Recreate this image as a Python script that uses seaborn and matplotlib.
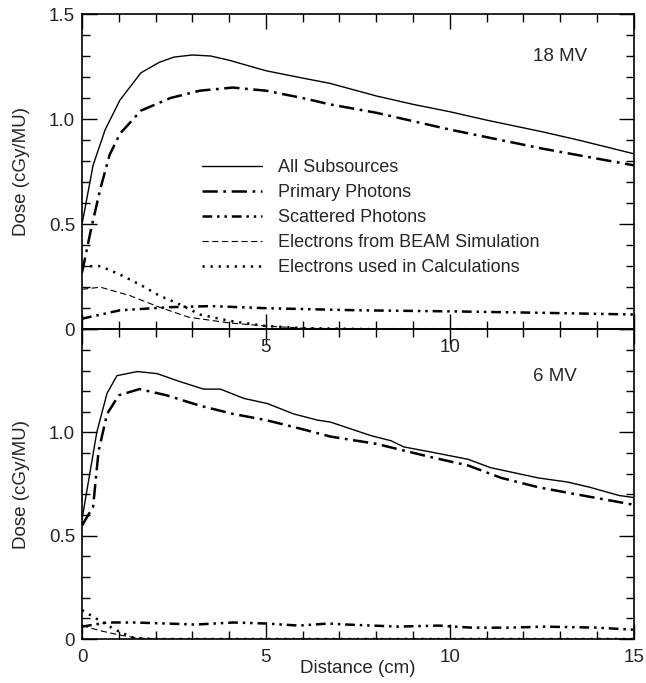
import numpy as np
import pandas as pd
import matplotlib
matplotlib.use("Agg")
import matplotlib.pyplot as plt
import seaborn as sns
from matplotlib.ticker import MultipleLocator, FixedLocator, FixedFormatter

# ---------------- data ----------------
labels = ["All Subsources", "Primary Photons", "Scattered Photons",
          "Electrons from BEAM Simulation", "Electrons used in Calculations"]

# 18 MV
x18_all = [0, 0.3, 0.63, 1.03, 1.6, 2.1, 2.5, 3.0, 3.5, 4.0, 5.0, 6.0, 6.74, 8.0, 9.0, 10.0, 11.0, 12.5, 13.5, 15.0]
y18_all = [0.50, 0.78, 0.95, 1.09, 1.22, 1.27, 1.295, 1.305, 1.30, 1.28, 1.23, 1.195, 1.17, 1.11, 1.07, 1.035, 0.995, 0.94, 0.90, 0.835]
x18_pri = [0, 0.25, 0.5, 0.75, 1.03, 1.6, 2.4, 3.2, 4.1, 5.0, 6.0, 6.74, 8.0, 10.0, 12.5, 15.0]
y18_pri = [0.27, 0.48, 0.67, 0.83, 0.93, 1.04, 1.10, 1.135, 1.15, 1.135, 1.10, 1.07, 1.03, 0.95, 0.86, 0.78]
x18_sca = [0, 1.03, 2.4, 3.5, 5.0, 7.5, 10.0, 12.5, 15.0]
y18_sca = [0.05, 0.09, 0.105, 0.11, 0.10, 0.09, 0.085, 0.078, 0.07]
x18_ebm = [0, 0.5, 1.3, 2.1, 2.9, 4.0, 5.0, 6.0, 8.0, 15.0]
y18_ebm = [0.19, 0.20, 0.16, 0.105, 0.057, 0.03, 0.015, 0.005, 0.0, 0.0]
x18_ecl = [0, 0.5, 1.03, 1.6, 2.1, 2.7, 3.2, 4.0, 5.0, 6.0, 8.0, 15.0]
y18_ecl = [0.30, 0.30, 0.26, 0.21, 0.16, 0.115, 0.07, 0.04, 0.015, 0.005, 0.0, 0.0]

# 6 MV
x6_all = [0, 0.4, 0.68, 0.95, 1.5, 2.04, 2.6, 3.3, 3.76, 4.4, 5.04, 5.75, 6.4, 6.76, 7.85, 8.4, 8.75, 9.5, 10.5, 11.1, 12.4, 13.2, 13.8, 14.6, 15.0]
y6_all = [0.58, 1.00, 1.19, 1.275, 1.295, 1.285, 1.25, 1.21, 1.21, 1.165, 1.14, 1.09, 1.06, 1.05, 0.985, 0.96, 0.93, 0.905, 0.87, 0.83, 0.78, 0.76, 0.735, 0.695, 0.685]
x6_pri = [0, 0.3, 0.45, 0.68, 1.0, 1.56, 2.3, 3.2, 4.1, 5.0, 5.9, 6.76, 8.0, 9.5, 10.5, 11.4, 12.4, 13.3, 15.0]
y6_pri = [0.55, 0.64, 0.91, 1.09, 1.18, 1.21, 1.18, 1.13, 1.09, 1.06, 1.02, 0.98, 0.945, 0.88, 0.84, 0.78, 0.735, 0.705, 0.65]
x6_sca = [0, 0.68, 1.4, 2.3, 3.1, 4.1, 5.0, 5.9, 6.7, 7.2, 8.6, 9.7, 10.6, 11.6, 12.6, 14.0, 15.0]
y6_sca = [0.06, 0.08, 0.08, 0.075, 0.07, 0.08, 0.075, 0.065, 0.075, 0.07, 0.06, 0.065, 0.055, 0.055, 0.06, 0.055, 0.045]
x6_ebm = [0, 0.5, 1.0, 1.5, 2.0, 15.0]
y6_ebm = [0.065, 0.04, 0.02, 0.005, 0.0, 0.0]
x6_ecl = [0, 0.47, 0.9, 1.4, 2.0, 15.0]
y6_ecl = [0.14, 0.09, 0.045, 0.005, 0.0, 0.0]

panels = [
    ("18 MV", [(x18_all, y18_all), (x18_pri, y18_pri), (x18_sca, y18_sca), (x18_ebm, y18_ebm), (x18_ecl, y18_ecl)]),
    ("6 MV", [(x6_all, y6_all), (x6_pri, y6_pri), (x6_sca, y6_sca), (x6_ebm, y6_ebm), (x6_ecl, y6_ecl)]),
]

# ---------------- style ----------------
sns.set_theme(style="white")
plt.rcParams['font.family'] = ['Liberation Sans', 'DejaVu Sans']
plt.rcParams['lines.scale_dashes'] = False

styles = [
    dict(lw=1.0, ls='-'),
    dict(lw=1.8, ls=(0, (11, 4, 2, 4))),
    dict(lw=1.8, ls=(0, (7, 3.5, 1.8, 3.5, 1.8, 3.5))),
    dict(lw=0.8, ls=(0, (4.5, 2.5))),
    dict(lw=1.8, ls=(0, (1.6, 4.2))),
]

fig = plt.figure(figsize=(6.46, 6.83), dpi=100)
ax_top = fig.add_axes([0.127, 0.518, 0.854, 0.4615])
ax_bot = fig.add_axes([0.127, 0.0644, 0.854, 0.4536])

for ax, (title, series) in zip([ax_top, ax_bot], panels):
    for (xs, ys), st, lab in zip(series, styles, labels):
        df = pd.DataFrame({"x": xs, "y": ys})
        sns.lineplot(data=df, x="x", y="y", ax=ax, color="black",
                     linewidth=st['lw'], linestyle=st['ls'],
                     estimator=None, sort=False, label=lab, legend=False)
    ax.set_xlim(0, 15)
    ax.set_ylim(0, 1.5)
    ax.xaxis.set_major_locator(MultipleLocator(5))
    ax.xaxis.set_minor_locator(MultipleLocator(1))
    ax.yaxis.set_major_locator(MultipleLocator(0.5))
    ax.yaxis.set_minor_locator(MultipleLocator(0.1))
    ax.tick_params(which='both', direction='in', top=True, right=True,
                   bottom=True, left=True, color='black', width=1.0,
                   labelsize=13.5)
    ax.tick_params(axis='x', which='both', pad=7)
    ax.tick_params(axis='y', which='both', pad=5)
    ax.tick_params(which='major', length=11)
    ax.tick_params(which='minor', length=5.5)
    for sp in ax.spines.values():
        sp.set_color('black')
        sp.set_linewidth(1.2)
    ax.set_ylabel("Dose (cGy/MU)", fontsize=13.5)
    ax.yaxis.set_label_coords(-0.094, 0.5)
    ax.set_xlabel("")
    ax.text(12.25, 1.30 if title == "18 MV" else 1.27, title, fontsize=13.5,
            va='center', ha='left')

ax_top.yaxis.set_major_locator(FixedLocator([0, 0.5, 1.0, 1.5]))
ax_top.yaxis.set_major_formatter(FixedFormatter(["0", "0.5", "1.0", "1.5"]))
ax_top.xaxis.set_major_locator(FixedLocator([0, 5, 10, 15]))
ax_top.xaxis.set_major_formatter(FixedFormatter(["", "5", "10", ""]))

ax_bot.yaxis.set_major_locator(FixedLocator([0, 0.5, 1.0, 1.5]))
ax_bot.yaxis.set_major_formatter(FixedFormatter(["0", "0.5", "1.0", ""]))
ax_bot.xaxis.set_major_locator(FixedLocator([0, 5, 10, 15]))
ax_bot.xaxis.set_major_formatter(FixedFormatter(["0", "5", "10", "15"]))
ax_bot.set_xlabel("Distance (cm)", fontsize=13.5)
ax_bot.xaxis.set_label_coords(0.5, -0.068)

handles = ax_top.get_lines()[:5]
ax_top.legend(handles, labels, loc='upper left', bbox_to_anchor=(0.205, 0.563),
              frameon=False, fontsize=13, handlelength=3.3, handletextpad=0.9,
              labelspacing=0.45, borderaxespad=0)

ax_top.set_zorder(2)
ax_top.patch.set_alpha(0)

fig.savefig("out.png", dpi=100, facecolor='white')
